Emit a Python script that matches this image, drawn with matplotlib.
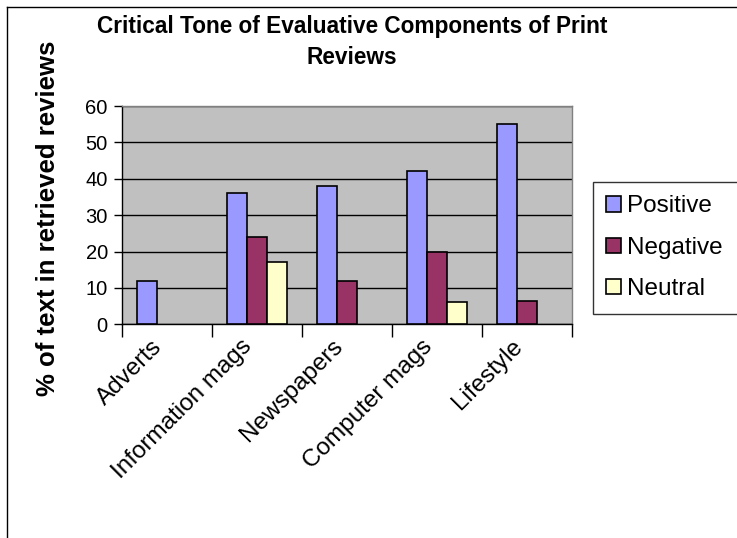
import matplotlib
matplotlib.use("Agg")
import matplotlib.pyplot as plt
import numpy as np
from matplotlib.lines import Line2D
from matplotlib.patches import Patch

categories = ["Adverts", "Information mags", "Newspapers", "Computer mags", "Lifestyle"]
positive = [12, 36, 38, 42, 55]
negative = [0, 24, 12, 20, 6.5]
neutral = [0, 17, 0, 6, 0]
series_names = ["Positive", "Negative", "Neutral"]
series_colors = ["#9999FF", "#993366", "#FFFFCC"]
yticks = [0, 10, 20, 30, 40, 50, 60]

W, H = 737, 538
plt.rcParams['font.family'] = ['Liberation Sans', 'DejaVu Sans']
fig = plt.figure(figsize=(W / 100, H / 100), dpi=100)
fig.patch.set_facecolor("white")

ax = fig.add_axes([121.7 / W, 1 - 324.3 / H, 450 / W, (324.3 - 106) / H])
ax.set_facecolor("#C0C0C0")

x = np.arange(len(categories))
bw = 2 / 9
for k, (vals, col) in enumerate(zip([positive, negative, neutral], series_colors)):
    xs = [xi + (k - 1) * bw for xi, v in zip(x, vals) if v > 0]
    vs = [v for v in vals if v > 0]
    ax.bar(xs, vs, width=bw, color=col, edgecolor="black", linewidth=1.2, zorder=3)

ax.set_xlim(-0.5, len(categories) - 0.5)
ax.set_ylim(0, 60)
ax.set_yticks(yticks)
ax.set_yticklabels([str(t) for t in yticks], fontsize=14.5)
ax.yaxis.grid(True, color="black", linewidth=1.0, zorder=1)
ax.set_axisbelow(True)
ax.tick_params(axis="y", length=6, width=1, direction="out", pad=4)

ax.set_xticks(np.arange(-0.5, len(categories), 1.0))
ax.set_xticklabels([])
ax.tick_params(axis="x", length=9, width=1, direction="out")
ax.set_xticks(x, minor=True)
ax.set_xticklabels(categories, minor=True, rotation=45, ha="right", va="top",
                   rotation_mode="default", fontsize=17.5)
ax.tick_params(axis="x", which="minor", length=0, pad=8)

for s in ["left", "bottom"]:
    ax.spines[s].set_color("black")
    ax.spines[s].set_linewidth(1)
for s in ["top", "right"]:
    ax.spines[s].set_color("#808080")
    ax.spines[s].set_linewidth(1)

fig.text(352 / W, 1 - 27 / H, "Critical Tone of Evaluative Components of Print",
         ha="center", va="center", fontsize=16.3, fontweight="bold")
fig.text(352 / W, 1 - 57 / H, "Reviews", ha="center", va="center",
         fontsize=16.3, fontweight="bold")
fig.text(48 / W, 1 - 218 / H, "% of text in retrieved reviews", rotation=90,
         ha="center", va="center", fontsize=18.5, fontweight="bold")

handles = [Patch(facecolor=c, edgecolor="black", linewidth=1.2) for c in series_colors]
leg = fig.legend(handles, series_names, loc="upper left",
                 bbox_to_anchor=(593 / W, 1 - 312 / H, 150 / W, 130 / H),
                 mode="expand", borderaxespad=0, fontsize=17.5, frameon=True,
                 fancybox=False, handlelength=0.6, handleheight=0.6,
                 handletextpad=0.25, labelspacing=0.8, borderpad=0.55)
leg.get_frame().set_edgecolor("black")
leg.get_frame().set_linewidth(1)

fig.add_artist(Line2D([7 / W, 7 / W], [0, 1 - 6.7 / H], transform=fig.transFigure,
                      color="black", linewidth=1))
fig.add_artist(Line2D([7 / W, 1], [1 - 6.7 / H, 1 - 6.7 / H], transform=fig.transFigure,
                      color="black", linewidth=1))

fig.savefig("out.png", dpi=100)
